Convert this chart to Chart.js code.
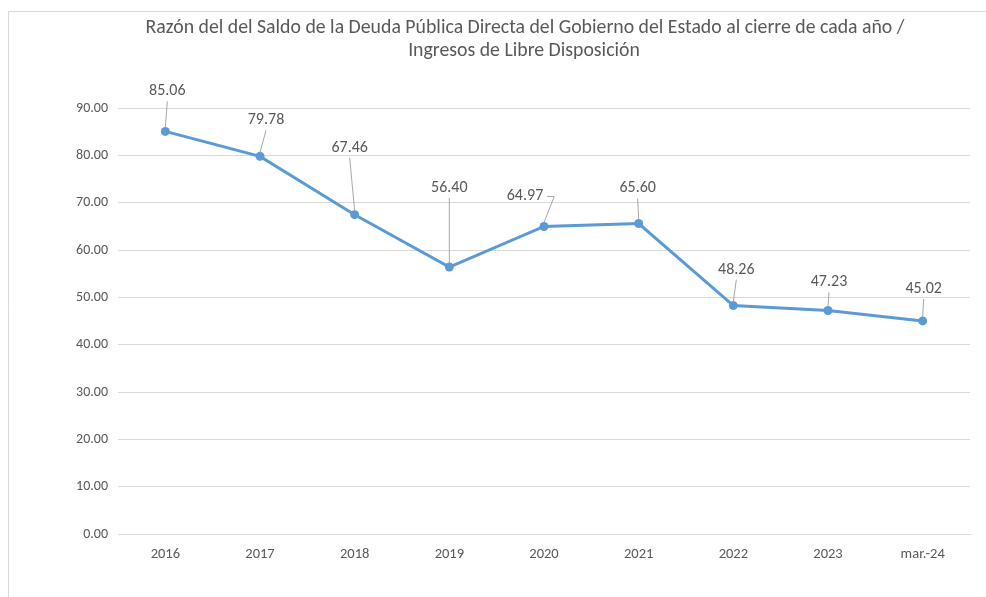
<!DOCTYPE html>
<html>
<head>
<meta charset="utf-8">
<script src="https://cdn.jsdelivr.net/npm/chart.js@4.4.1/dist/chart.umd.min.js"></script>
<style>
  html, body { margin: 0; padding: 0; background: #fff; }
  #wrap { width: 986px; height: 597px; position: relative; }
</style>
</head>
<body>
<div id="wrap"><canvas id="chart"></canvas></div>
<script>
// data
const categories = ['2016', '2017', '2018', '2019', '2020', '2021', '2022', '2023', 'mar.-24'];
const ratioValues = [85.06, 79.78, 67.46, 56.40, 64.97, 65.60, 48.26, 47.23, 45.02];
const yTicks = [0, 10, 20, 30, 40, 50, 60, 70, 80, 90];
const titleLines = [
  'Razón del del Saldo de la Deuda Pública Directa del Gobierno del Estado al cierre de cada año /',
  'Ingresos de Libre Disposición'
];

// label offsets (px) from each point, like the callouts in the original
const labelOffsets = [[2, -40], [6, -36], [-5, -67], [0, -79], [-19, -30], [-1, -35], [3, -36], [1, -28], [1, -32]];

const FONT = 'Carlito, Calibri, Lato, "Open Sans", sans-serif';
const TEXT = '#595959';
const GRID = '#d9d9d9';
const BLUE = '#5b9bd5';

// frame + title
const framePlugin = {
  id: 'frame',
  beforeDraw(chart) {
    const ctx = chart.ctx;
    ctx.save();
    ctx.strokeStyle = GRID;
    ctx.lineWidth = 1;
    ctx.beginPath();
    ctx.moveTo(8.5, 597);
    ctx.lineTo(8.5, 11.5);
    ctx.lineTo(986, 11.5);
    ctx.stroke();
    ctx.fillStyle = TEXT;
    ctx.font = '19.8px ' + FONT;
    ctx.textAlign = 'center';
    ctx.textBaseline = 'middle';
    ctx.fillText(titleLines[0], 525, 28);
    ctx.fillText(titleLines[1], 524, 51);
    ctx.restore();
  }
};

// data labels with leader lines
const calloutPlugin = {
  id: 'callouts',
  afterDatasetsDraw(chart) {
    const ctx = chart.ctx;
    const meta = chart.getDatasetMeta(0);
    ctx.save();
    ctx.font = '16px ' + FONT;
    ctx.textAlign = 'center';
    ctx.textBaseline = 'middle';
    meta.data.forEach((pt, i) => {
      const [dx, dy] = labelOffsets[i];
      const lx = pt.x + dx, ly = pt.y + dy;
      const txt = ratioValues[i].toFixed(2);
      const w = ctx.measureText(txt).width;
      ctx.strokeStyle = '#a6a6a6';
      ctx.lineWidth = 1;
      ctx.beginPath();
      if (i === 4) {
        ctx.moveTo(lx + w / 2 + 4, ly);
        ctx.lineTo(lx + w / 2 + 11, ly);
        ctx.lineTo(pt.x, pt.y - 4);
      } else {
        ctx.moveTo(lx, ly + 10);
        ctx.lineTo(pt.x, pt.y - 4);
      }
      ctx.stroke();
      ctx.fillStyle = TEXT;
      ctx.fillText(txt, lx, ly);
    });
    ctx.restore();
  }
};

new Chart(document.getElementById('chart'), {
  type: 'line',
  data: {
    labels: categories,
    datasets: [{
      data: ratioValues,
      borderColor: BLUE,
      backgroundColor: BLUE,
      borderWidth: 3,
      pointRadius: 4.5,
      pointHoverRadius: 4.5,
      pointBorderWidth: 0,
      tension: 0
    }]
  },
  options: {
    responsive: true,
    maintainAspectRatio: false,
    animation: false,
    layout: { padding: { top: 108, right: 16, bottom: 0, left: 0 } },
    plugins: {
      legend: { display: false },
      title: { display: false },
      tooltip: { enabled: false }
    },
    scales: {
      x: {
        offset: true,
        grid: { display: false, drawTicks: false },
        border: { color: GRID },
        ticks: { color: TEXT, font: { family: FONT, size: 14.5 }, padding: 12 },
        afterFit(s) { s.height = 63; }
      },
      y: {
        min: 0,
        max: 90,
        afterBuildTicks(s) { s.ticks = yTicks.map(v => ({ value: v })); },
        grid: { color: GRID, drawTicks: false },
        border: { display: false },
        ticks: {
          color: TEXT,
          font: { family: FONT, size: 14 },
          padding: 10,
          callback: v => Number(v).toFixed(2)
        },
        afterFit(s) { s.width = 118; }
      }
    }
  },
  plugins: [framePlugin, calloutPlugin]
});
</script>
</body>
</html>
